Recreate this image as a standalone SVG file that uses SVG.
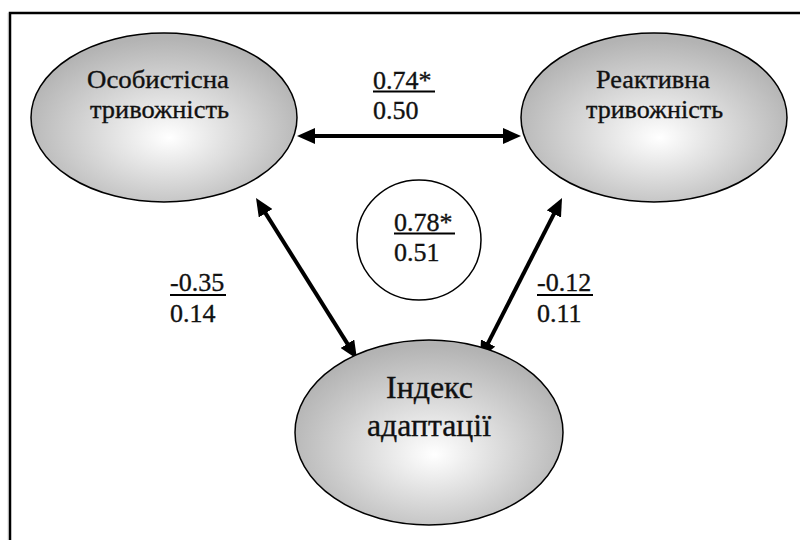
<svg xmlns="http://www.w3.org/2000/svg" width="800" height="540" viewBox="0 0 800 540">
<style>
.node{stroke:#000;stroke-width:1.5;fill:url(#g)}
text{fill:#111;stroke:#111;stroke-width:0.35}
.lbl{font-size:26px}
.big{font-size:32px}
.conn{stroke:#000;stroke-width:4;fill:none;marker-start:url(#ah);marker-end:url(#ah)}
.ul{stroke:#000;stroke-width:2}
</style>
<defs>
<radialGradient id="g" cx="50%" cy="58%" r="55%" fx="52%" fy="62%">
<stop offset="0" stop-color="#ffffff"/>
<stop offset="1" stop-color="#b3b3b3"/>
</radialGradient>
<marker id="ah" viewBox="0 0 18 16" refX="12" refY="8" markerWidth="18" markerHeight="16" markerUnits="userSpaceOnUse" orient="auto-start-reverse">
<path d="M0,0 L18,8 L0,16 Z" fill="#000"/>
</marker>
</defs>
<rect width="800" height="540" fill="#fff"/>
<line x1="8" y1="13" x2="8" y2="540" stroke="#ddd" stroke-width="1"/>
<rect x="10" y="13" width="820" height="600" fill="none" stroke="#000" stroke-width="2.5"/>

<g id="connectors">
<line class="conn" x1="303" y1="136" x2="515" y2="136"/>
<line class="conn" x1="259.2" y1="203.1" x2="353.8" y2="353.9"/>
<line class="conn" x1="559.3" y1="203.3" x2="482.7" y2="353.7"/>
</g>

<g font-family="Liberation Serif, serif">
<g id="n1">
<ellipse class="node" cx="164" cy="117.5" rx="133" ry="84.5"/>
<text class="lbl" x="87" y="88" textLength="142" lengthAdjust="spacingAndGlyphs">Особистісна</text>
<text class="lbl" x="90" y="118" textLength="139" lengthAdjust="spacingAndGlyphs">тривожність</text>
</g>
<g id="n2">
<ellipse class="node" cx="654" cy="117.5" rx="133" ry="84.5"/>
<text class="lbl" x="596" y="88" textLength="114" lengthAdjust="spacingAndGlyphs">Реактивна</text>
<text class="lbl" x="586" y="118" textLength="137" lengthAdjust="spacingAndGlyphs">тривожність</text>
</g>
<g id="n3">
<ellipse class="node" cx="429" cy="432.5" rx="134" ry="92.5"/>
<text class="big" x="386" y="398" textLength="87" lengthAdjust="spacingAndGlyphs">Індекс</text>
<text class="big" x="367" y="436" textLength="124" lengthAdjust="spacingAndGlyphs">адаптації</text>
</g>
<g id="c">
<ellipse cx="419" cy="240" rx="62" ry="60" fill="#fff" stroke="#000" stroke-width="1.5"/>
<text class="lbl" x="394" y="231">0.78*</text>
<line class="ul" x1="394" y1="233.5" x2="455" y2="233.5"/>
<text class="lbl" x="394" y="261">0.51</text>
</g>
<g id="labels">
<text class="lbl" x="373" y="89">0.74*</text>
<line class="ul" x1="373" y1="91.5" x2="435" y2="91.5"/>
<text class="lbl" x="373" y="118.5">0.50</text>
<text class="lbl" x="170" y="291">-0.35</text>
<line class="ul" x1="170" y1="295" x2="226" y2="295"/>
<text class="lbl" x="170" y="321.5">0.14</text>
<text class="lbl" x="537" y="291">-0.12</text>
<line class="ul" x1="537" y1="295" x2="593" y2="295"/>
<text class="lbl" x="537" y="321.5">0.11</text>
</g>
</g>
</svg>
